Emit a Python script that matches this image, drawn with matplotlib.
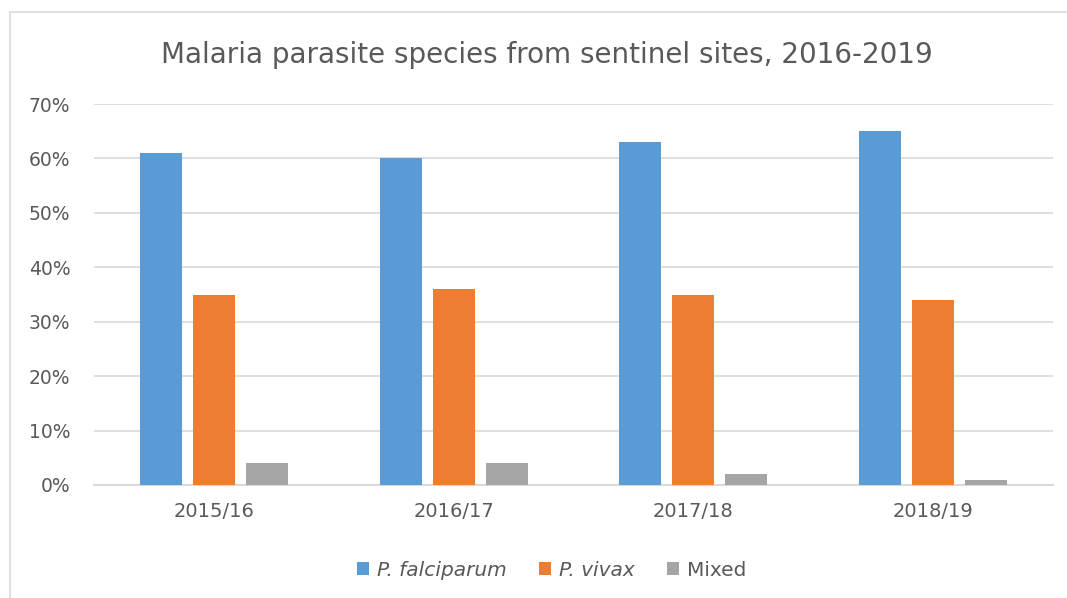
import numpy as np
import matplotlib
matplotlib.use("Agg")
import matplotlib.pyplot as plt
from matplotlib.patches import Rectangle
from matplotlib.ticker import FuncFormatter

years = ["2015/16", "2016/17", "2017/18", "2018/19"]
falciparum = [61, 60, 63, 65]
vivax = [35, 36, 35, 34]
mixed = [4, 4, 2, 1]
series_names = ["P. falciparum", "P. vivax", "Mixed"]
colors = ["#5b9bd5", "#ed7d31", "#a5a5a5"]

plt.rcParams['font.family'] = ['DejaVu Sans']
text_color = "#595959"

fig = plt.figure(figsize=(10.67, 5.98), dpi=100)
ax = fig.add_axes([94 / 1067, 1 - 485 / 598, (1053 - 94) / 1067, (485 - 104) / 598])

x = np.arange(len(years))
w = 0.175
off = 0.221
for i, (vals, name, col) in enumerate(zip([falciparum, vivax, mixed], series_names, colors)):
    ax.bar(x + (i - 1) * off, vals, width=w, color=col, label=name, zorder=3)

ax.set_xlim(-0.5, len(years) - 0.5)
ax.set_ylim(0, 70)
ax.set_yticks(range(0, 71, 10))
ax.yaxis.set_major_formatter(FuncFormatter(lambda v, p: f"{int(v)}%"))
ax.set_xticks(x)
ax.set_xticklabels(years)
ax.grid(axis="y", color="#d9d9d9", linewidth=1.2, zorder=0)
for s in ["top", "right", "left"]:
    ax.spines[s].set_visible(False)
ax.spines["bottom"].set_color("#d9d9d9")
ax.spines["bottom"].set_linewidth(1.5)
ax.tick_params(axis="x", length=0, labelsize=14, colors=text_color, pad=12)
ax.tick_params(axis="y", length=0, labelsize=13.5, colors=text_color, pad=17)

fig.text(0.513, 1 - 55 / 598, "Malaria parasite species from sentinel sites, 2016-2019",
         ha="center", va="center", fontsize=20, color=text_color)

leg = fig.legend(loc="center", bbox_to_anchor=(0.517, 1 - 570 / 598), ncol=3, frameon=False,
                 fontsize=14.5, handlelength=0.6, handleheight=0.6, handletextpad=0.4,
                 columnspacing=1.6, labelcolor=text_color)
for t in leg.get_texts()[:2]:
    t.set_fontstyle("italic")

fig.add_artist(Rectangle((10 / 1067, -0.1), 1.2, 1 - 12 / 598 + 0.1, transform=fig.transFigure,
                         fill=False, edgecolor="#d9d9d9", linewidth=1.2))

fig.savefig("out.png", dpi=100)
